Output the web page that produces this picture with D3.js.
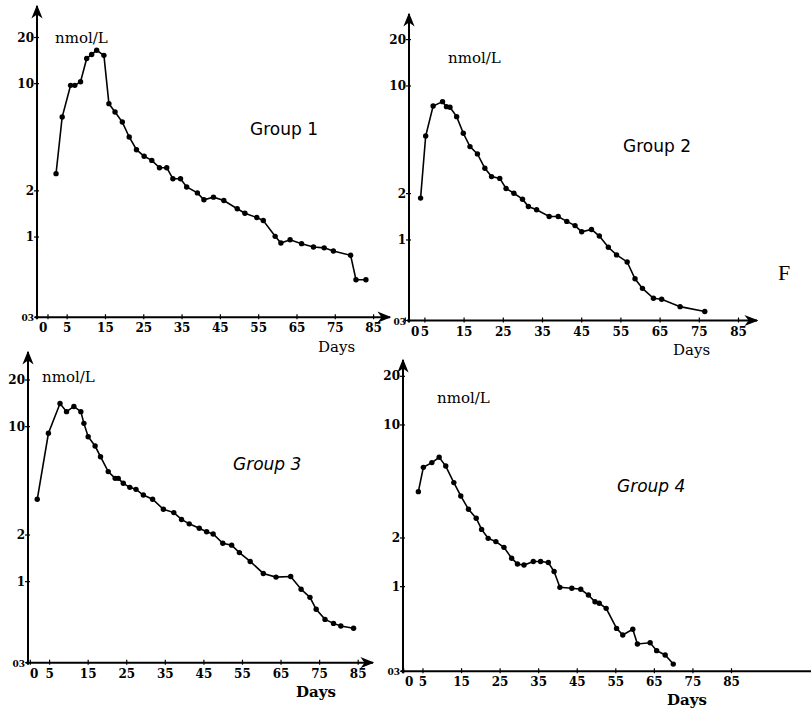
<!DOCTYPE html>
<html>
<head>
<meta charset="utf-8">
<script src="https://cdn.jsdelivr.net/npm/d3@7"></script>
<style>
  body { margin: 0; background: #fff; }
  svg { display: block; }
</style>
</head>
<body>
<script>
// values (days, nmol/L)
const days1 = [2.1, 3.7, 5.9, 7.0, 8.5, 10.1, 11.4, 12.7, 14.6, 15.9, 17.5, 19.4, 21.2, 23.1, 25.1, 27.1, 29.1, 31.0, 32.6, 34.6, 36.2, 39.0, 40.7, 43.2, 45.9, 49.4, 51.4, 54.5, 56.2, 59.3, 60.8, 63.2, 66.2, 69.3, 72.1, 74.5, 79.0, 80.4, 83.0];
const values1 = [2.59, 6.06, 9.75, 9.75, 10.3, 14.6, 15.5, 16.5, 15.3, 7.41, 6.53, 5.62, 4.49, 3.71, 3.36, 3.16, 2.83, 2.83, 2.4, 2.4, 2.12, 1.94, 1.75, 1.82, 1.73, 1.53, 1.43, 1.34, 1.28, 1.01, 0.914, 0.96, 0.905, 0.86, 0.85, 0.81, 0.76, 0.527, 0.527];

const days2 = [3.9, 5.2, 7.1, 9.5, 10.5, 11.4, 13.1, 14.8, 16.5, 18.4, 20.3, 22.0, 24.1, 25.7, 27.7, 29.9, 31.4, 33.5, 36.7, 39.0, 41.2, 43.3, 45.0, 47.5, 49.5, 51.8, 53.9, 56.6, 58.6, 60.5, 63.3, 65.4, 70.1, 76.4];
const values2 = [1.87, 4.73, 7.41, 7.91, 7.34, 7.27, 6.32, 4.93, 4.04, 3.62, 2.92, 2.58, 2.51, 2.16, 2.01, 1.84, 1.65, 1.57, 1.42, 1.42, 1.32, 1.24, 1.13, 1.17, 1.06, 0.896, 0.8, 0.72, 0.56, 0.485, 0.418, 0.412, 0.369, 0.343];

const days3 = [1.8, 4.7, 7.7, 9.4, 11.3, 13.1, 13.9, 15.0, 16.8, 18.2, 20.2, 22.0, 22.8, 24.1, 25.8, 27.4, 29.3, 31.7, 34.5, 37.2, 39.2, 41.2, 43.8, 45.7, 47.4, 49.9, 52.2, 54.2, 57.0, 60.4, 63.7, 67.5, 70.2, 72.5, 74.1, 76.4, 78.6, 80.5, 83.8];
const values3 = [3.4, 9.06, 14.1, 12.5, 13.5, 12.5, 10.5, 8.61, 7.5, 6.4, 5.13, 4.64, 4.64, 4.31, 4.06, 3.94, 3.62, 3.4, 2.93, 2.79, 2.52, 2.36, 2.21, 2.1, 2.03, 1.77, 1.72, 1.54, 1.35, 1.13, 1.07, 1.08, 0.893, 0.792, 0.663, 0.571, 0.538, 0.518, 0.5];

const days4 = [3.8, 5.1, 7.3, 9.2, 10.9, 13.0, 14.8, 16.8, 18.8, 20.2, 21.9, 23.9, 26.0, 28.0, 29.5, 31.2, 33.6, 35.5, 37.5, 39.0, 40.5, 43.6, 45.9, 47.9, 49.6, 50.7, 52.5, 55.2, 56.8, 59.4, 60.6, 63.9, 65.6, 67.8, 69.9];
const values4 = [3.87, 5.47, 5.85, 6.31, 5.57, 4.4, 3.64, 3.01, 2.65, 2.26, 1.99, 1.9, 1.75, 1.5, 1.38, 1.36, 1.43, 1.43, 1.41, 1.24, 0.99, 0.977, 0.963, 0.888, 0.807, 0.789, 0.734, 0.552, 0.502, 0.545, 0.442, 0.45, 0.402, 0.378, 0.332];

const dayTicks = [0, 5, 15, 25, 35, 45, 55, 65, 75, 85];
const concTicks = [0.3, 1, 2, 10, 20];
const concLabels = ["03", "1", "2", "10", "20"];
const groupNames = ["Group 1", "Group 2", "Group 3", "Group 4"];

const W = 811, H = 711;

// hand-drawn layout of the four panels
const panels = [
  { days: days1, values: values1, axisX: 37, xr: [48, 373.6], yr: [317.2, 37.5], top: 6, xEnd: 390,
    unit: [55, 43], group: [250, 135], daysLbl: [318, 352], italic: false },
  { days: days2, values: values2, axisX: 409, xr: [405.3, 738.5], yr: [320.5, 39.6], top: 14, xEnd: 757,
    unit: [448, 63], group: [623, 152], daysLbl: [673, 355], italic: false },
  { days: days3, values: values3, axisX: 28, xr: [30.3, 358.2], yr: [662.7, 380], top: 352, xEnd: 373,
    unit: [42, 382], group: [233, 470], daysLbl: [296, 697], italic: true },
  { days: days4, values: values4, axisX: 403, xr: [403.7, 731.5], yr: [671.2, 376.3], top: 360, xEnd: 811,
    unit: [437, 403], group: [617, 492], daysLbl: [667, 705], italic: true }
];

const svg = d3.select("body").append("svg")
  .attr("width", W)
  .attr("height", H);

const defs = svg.append("defs");
defs.append("marker")
  .attr("id", "arrow")
  .attr("viewBox", "0 0 10 10")
  .attr("refX", 9).attr("refY", 5)
  .attr("markerWidth", 7).attr("markerHeight", 7)
  .attr("orient", "auto")
  .append("path")
  .attr("d", "M0,1 L10,5 L0,9 L3,5 Z")
  .attr("fill", "#000");

panels.forEach((p, i) => {
  let x = d3.scaleLinear().domain([0, 85]).range(p.xr);
  let y = d3.scaleLog().domain([0.3, 20]).range(p.yr);
  let g = svg.append("g");
  let base = y(0.3);

  // axes lines with arrows
  g.append("line")
    .attr("x1", p.axisX).attr("y1", base + 2)
    .attr("x2", p.axisX).attr("y2", p.top)
    .attr("stroke", "#000").attr("stroke-width", 2)
    .attr("marker-end", "url(#arrow)");
  g.append("line")
    .attr("x1", p.axisX - 2).attr("y1", base)
    .attr("x2", p.xEnd).attr("y2", base)
    .attr("stroke", "#000").attr("stroke-width", 2)
    .attr("marker-end", i === 3 ? null : "url(#arrow)");

  // y ticks
  concTicks.forEach((t, k) => {
    g.append("line")
      .attr("x1", p.axisX - 3).attr("x2", p.axisX + 2)
      .attr("y1", y(t)).attr("y2", y(t))
      .attr("stroke", "#000").attr("stroke-width", 1.2);
    g.append("text")
      .attr("x", p.axisX - 3)
      .attr("y", y(t) + 4)
      .attr("text-anchor", "end")
      .style("font-family", "DejaVu Serif")
      .style("font-weight", "bold")
      .style("font-size", k === 0 ? "9px" : "12px")
      .text(concLabels[k]);
  });

  // x ticks ("0" sits just right of the y axis)
  dayTicks.forEach(t => {
    g.append("line")
      .attr("x1", x(t)).attr("x2", x(t))
      .attr("y1", base - 3).attr("y2", base + 2)
      .attr("stroke", "#000").attr("stroke-width", 1.2);
    g.append("text")
      .attr("x", t === 0 ? p.axisX + 2 : x(t))
      .attr("y", base + 15)
      .attr("text-anchor", t === 0 ? "start" : "middle")
      .style("font-family", "DejaVu Serif")
      .style("font-weight", "bold")
      .style("font-size", "12px")
      .text(t);
  });

  let pts = p.days.map((d, k) => [d, p.values[k]]);

  g.append("path")
    .datum(pts)
    .attr("fill", "none")
    .attr("stroke", "#000")
    .attr("stroke-width", 1.6)
    .attr("d", d3.line().x(d => x(d[0])).y(d => y(d[1])));

  g.selectAll("circle")
    .data(pts)
    .enter()
    .append("circle")
    .attr("cx", d => x(d[0]))
    .attr("cy", d => y(d[1]))
    .attr("r", 2.7)
    .attr("fill", "#000");

  g.append("text")
    .attr("x", p.unit[0]).attr("y", p.unit[1])
    .style("font-family", "DejaVu Serif")
    .style("font-size", "15px")
    .text("nmol/L");

  g.append("text")
    .attr("x", p.group[0]).attr("y", p.group[1])
    .style("font-family", "DejaVu Sans")
    .style("font-style", p.italic ? "italic" : "normal")
    .style("font-size", "17px")
    .text(groupNames[i]);

  g.append("text")
    .attr("x", p.daysLbl[0]).attr("y", p.daysLbl[1])
    .style("font-family", "DejaVu Serif")
    .style("font-weight", i > 1 ? "bold" : "normal")
    .style("font-size", "15px")
    .text("Days");
});

// cut-off letter at the right edge of the scan
svg.append("text")
  .attr("x", 778).attr("y", 280)
  .style("font-family", "Liberation Serif")
  .style("font-size", "22px")
  .text("F");
</script>
</body>
</html>
